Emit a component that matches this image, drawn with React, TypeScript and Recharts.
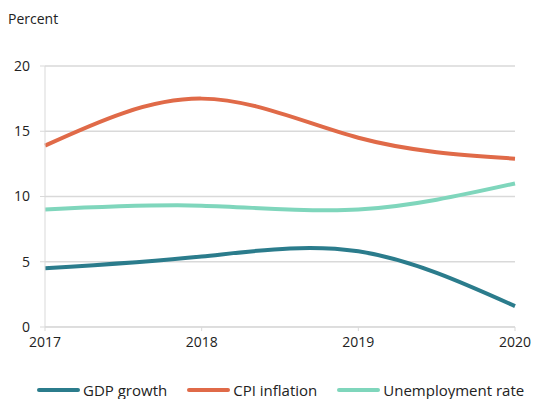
import { LineChart, Line, XAxis, YAxis, CartesianGrid } from "recharts";

const years = ["2017", "2018", "2019", "2020"];
const gdpGrowth = [4.5, 5.4, 5.8, 1.6];
const cpiInflation = [13.9, 17.5, 14.5, 12.9];
const unemploymentRate = [9.0, 9.3, 9.0, 11.0];
const yTicks = [0, 5, 10, 15, 20];

const SERIES = [
  { key: "gdp", name: "GDP growth", color: "#2b7c8c" },
  { key: "cpi", name: "CPI inflation", color: "#e06a48" },
  { key: "unemp", name: "Unemployment rate", color: "#7fd6bc" },
];

const data = years.map((year, i) => ({
  year,
  gdp: gdpGrowth[i],
  cpi: cpiInflation[i],
  unemp: unemploymentRate[i],
}));

const FONT = "'Open Sans', 'Noto Sans', sans-serif";

function LegendRow() {
  return (
    <div
      style={{
        position: "absolute",
        left: 37,
        top: 381,
        display: "flex",
        gap: 20,
        fontFamily: FONT,
        fontSize: 15,
        lineHeight: "18px",
        color: "#222",
        whiteSpace: "nowrap",
      }}
    >
      {SERIES.map((s) => (
        <span key={s.key} style={{ display: "flex", alignItems: "center", gap: 3 }}>
          <span style={{ display: "inline-block", width: 43, height: 4, borderRadius: 2, background: s.color }} />
          {s.name}
        </span>
      ))}
    </div>
  );
}

export default function App() {
  return (
    <div style={{ position: "absolute", left: 0, top: 0, width: 533, height: 399, background: "#fff", overflow: "hidden" }}>
      <div style={{ position: "absolute", left: 8, top: 9, fontFamily: FONT, fontSize: 14, color: "#222" }}>Percent</div>
      <LineChart width={533} height={399} data={data} margin={{ top: 66, right: 18, left: 8, bottom: 42 }}>
        <CartesianGrid vertical={false} stroke="#d9d9d9" strokeWidth={1.3} />
        <XAxis
          dataKey="year"
          height={30}
          tick={{ fontSize: 14, fill: "#222", fontFamily: FONT }}
          tickSize={4}
          tickMargin={6}
          stroke="#d9d9d9"
          padding={{ left: 0, right: 0 }}
        />
        <YAxis
          domain={[0, 20]}
          ticks={yTicks}
          width={37}
          tick={{ fontSize: 14, fill: "#222", fontFamily: FONT }}
          tickSize={5}
          tickMargin={10}
          stroke="#d9d9d9"
        />
        {SERIES.map((s) => (
          <Line
            key={s.key}
            type="natural"
            dataKey={s.key}
            name={s.name}
            stroke={s.color}
            strokeWidth={4}
            dot={false}
            isAnimationActive={false}
          />
        ))}
      </LineChart>
      <LegendRow />
    </div>
  );
}
